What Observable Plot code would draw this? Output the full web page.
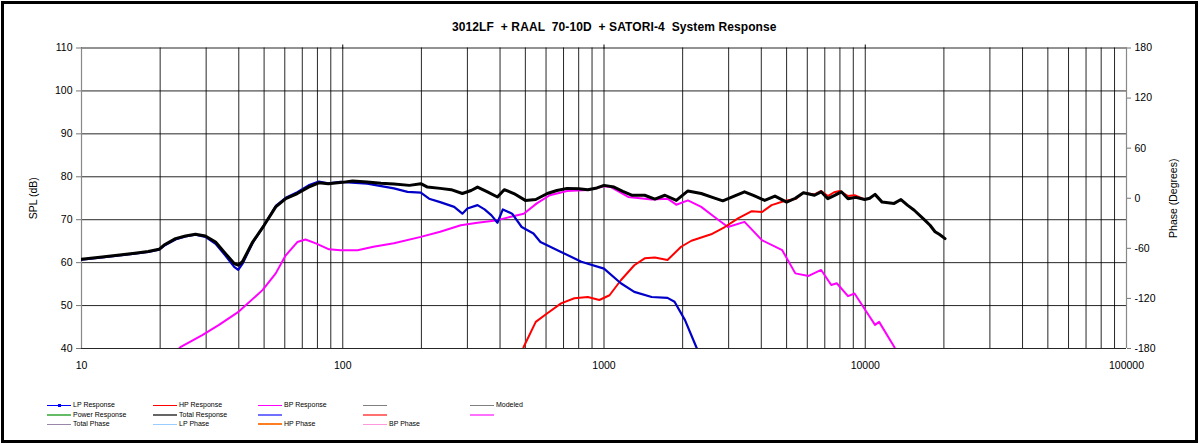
<!DOCTYPE html>
<html><head><meta charset="utf-8">
<script src="https://cdn.jsdelivr.net/npm/d3@7"></script>
<script src="https://cdn.jsdelivr.net/npm/@observablehq/plot@0.6"></script>
<style>
body{margin:0;background:#fff;font-family:"Liberation Sans",Arial,sans-serif;}
#wrap{position:relative;width:1200px;height:444px;overflow:hidden;background:#fff}
#frame{position:absolute;left:1px;top:1px;width:1197px;height:442px;border:3px solid #000;box-sizing:border-box}
#title{position:absolute;top:20px;left:452px;white-space:pre;font-weight:bold;font-size:12px;letter-spacing:0.1px;color:#000}
#chart{position:absolute;left:0;top:0}
.lg{position:absolute;font-size:7px;line-height:8px;color:#000;white-space:pre}
.ln{position:absolute;width:24px}
</style></head>
<body>
<div id="wrap">
  <div id="frame"></div>
  <div id="chart"></div>
  <div id="title"></div>
  <div id="legend"></div>
</div>
<script>
// ---------- data ----------
const chartTitle = "3012LF  + RAAL  70-10D  + SATORI-4  System Response";
const splTicks = [40, 50, 60, 70, 80, 90, 100, 110];
const phaseTicks = [-180, -120, -60, 0, 60, 120, 180];
const decadeTicks = [10, 100, 1000, 10000, 100000];

const totalFreq = [10,12,14,16,18,19.8,20.7,22.9,25,27.3,29.8,32.6,35.6,38.4,39.8,41.3,45.2,50,55.4,60.5,67,74,81,88,99.6,109,124,140,157,180,199,211,236,260,287,310,328,358,391,415,452,500,548,607,660,722,800,867,940,1000,1092,1180,1276,1431,1566,1711,1891,2095,2356,2600,2850,3150,3451,3750,4121,4512,5003,5400,5799,6393,6780,7190,7600,8100,8590,9200,9950,10400,10900,11600,12900,13700,14500,15400,16900,17700,18500,19200,20200];
const totalDb   = [60.8,61.3,61.8,62.2,62.6,63.1,64.1,65.6,66.2,66.6,66.2,64.8,62.1,59.8,59.4,60.2,64.8,68.7,73.0,74.9,76.1,77.6,78.6,78.4,78.7,79.0,78.8,78.5,78.3,78.0,78.4,77.6,77.3,77.0,76.1,76.8,77.6,76.5,75.3,77.0,76.1,74.5,74.7,76.1,76.8,77.3,77.2,77.0,77.4,78.0,77.6,76.6,75.7,75.7,74.8,75.7,74.5,76.7,76.1,75.2,74.4,75.5,76.5,75.6,74.5,75.5,74.1,75.0,76.3,75.7,76.5,74.9,75.6,76.5,74.9,75.2,74.7,75.0,75.9,74.1,73.8,74.7,73.4,72.2,69.9,68.7,67.2,66.6,65.6];

const lpFreq = [10,12,14,16,18,19.8,20.7,22.9,25,27.3,29.8,32.6,35.6,38.4,39.8,41.3,45.2,50,55.4,60.5,67,74,81,88,98,124,157,177,199,214,236,267,287,300,328,349,371,391,410,445,484,537,571,685,819,1000,1160,1306,1522,1750,1862,2042,2253,2400];
const lpDb   = [60.7,61.2,61.7,62.1,62.5,63.0,63.9,65.4,66.1,66.5,66.0,64.4,61.6,59.0,58.3,59.7,64.6,68.7,73.2,75.1,76.4,78.0,78.9,78.5,78.8,78.4,77.3,76.5,76.3,74.9,74.1,73.0,71.4,72.6,73.4,72.4,71.0,69.3,72.4,71.4,68.3,66.8,64.8,62.5,60.2,58.6,55.2,53.2,52.0,51.8,50.9,46.6,40.4,37.0];

const hpFreq = [480,493,548,607,685,770,867,960,1050,1160,1306,1431,1566,1750,1973,2160,2571,2900,3259,3680,4030,4380,4940,5400,5799,6393,6780,7190,7600,7980,8590,9100,9950];
const hpDb   = [38.0,40.4,46.2,48.2,50.5,51.7,52.0,51.3,52.4,55.9,59.4,61.0,61.2,60.6,63.7,65.1,66.6,68.3,70.3,72.0,71.8,73.4,74.4,74.8,76.3,75.9,76.7,75.5,76.4,76.7,75.5,75.7,74.7];

const bpFreq = [22,24,29,33.6,40,49.3,55.4,60.5,67,72,78.9,88.6,98,114,131,157,199,236,283,328,391,440,493,553,620,722,867,1000,1063,1238,1522,1750,1891,2095,2356,2640,2980,3451,4030,4810,5400,6070,6780,7410,7780,8590,9100,10400,10900,11300,12900,13500];
const bpDb   = [38.0,40.4,43.1,45.5,48.6,53.6,57.5,61.7,64.8,65.4,64.5,63.1,62.9,62.9,63.7,64.5,66.0,67.2,68.7,69.3,69.9,70.7,71.4,73.8,75.7,76.7,76.9,77.8,77.6,75.3,74.7,74.9,73.5,74.5,73.0,70.7,68.3,69.5,65.2,62.9,57.5,56.9,58.3,54.8,55.2,52.2,52.8,47.4,45.5,46.2,40.4,38.0];

const legendLabels = [
  ["LP Response", "HP Response", "BP Response", "", "Modeled"],
  ["Power Response", "Total Response", "", "", ""],
  ["Total Phase", "LP Phase", "HP Phase", "BP Phase"]
];
// ---------- build ----------
const toRows = (f, v) => f.map((x, i) => ({f: x, v: v[i]}));
const total = toRows(totalFreq, totalDb);
const lp = toRows(lpFreq, lpDb);
const hp = toRows(hpFreq, hpDb);
const bp = toRows(bpFreq, bpDb);

const gridFreqs = [];
for (let k = 10; k < 100000; k *= 10) for (let m = 1; m <= 9; m++) gridFreqs.push(m * k);
gridFreqs.push(100000);

const phaseToDb = p => 40 + (p + 180) / 360 * 70;
const dbToPhase = d => Math.round((d - 40) / 70 * 360 - 180);

const plot = Plot.plot({
  width: 1200, height: 444,
  marginTop: 47.5, marginBottom: 96, marginLeft: 81, marginRight: 74,
  style: {background: "transparent", fontFamily: "Liberation Sans, Arial, sans-serif", fontSize: "10px", color: "#000"},
  x: {type: "log", domain: [10, 100000]},
  y: {domain: [40, 110]},
  marks: [
    Plot.ruleX(gridFreqs, {stroke: "#000", strokeOpacity: 0.85, strokeWidth: 1}),
    Plot.ruleY(splTicks, {stroke: "#000", strokeOpacity: 0.85, strokeWidth: 1}),
    Plot.ruleX([10, 100000], {stroke: "#888", strokeWidth: 1.2}),
    Plot.axisY(splTicks, {anchor: "left", tickSize: 5, tickPadding: 4, stroke: "#777", fontSize: 10.5,
      label: "SPL (dB)", labelAnchor: "center", labelOffset: 52, labelArrow: "none"}),
    Plot.axisY(phaseTicks.map(phaseToDb), {anchor: "right", tickSize: 4, tickPadding: 4, stroke: "#777", fontSize: 10.5,
      tickFormat: d => String(dbToPhase(d)),
      label: "Phase (Degrees)", labelAnchor: "center", labelOffset: 50, labelArrow: "none"}),
    Plot.axisX(decadeTicks, {anchor: "bottom", tickSize: 0, tickPadding: 13, fontSize: 10.5, label: null, tickFormat: d => String(d)}),
    Plot.axisX(decadeTicks.slice(1, 4), {anchor: "top", tickSize: 4, stroke: "#000", label: null, tickFormat: () => ""}),
    Plot.line(bp, {x: "f", y: "v", stroke: "#ff00ff", strokeWidth: 2, clip: true}),
    Plot.line(hp, {x: "f", y: "v", stroke: "#ff0000", strokeWidth: 2, clip: true}),
    Plot.line(lp, {x: "f", y: "v", stroke: "#0000c8", strokeWidth: 2.2, clip: true}),
    Plot.line(total, {x: "f", y: "v", stroke: "#000", strokeWidth: 3, clip: true})
  ]
});
document.getElementById("chart").appendChild(plot);
document.getElementById("title").textContent = chartTitle;

// ---------- legend ----------
const legendStyles = [
  [["#0000ff",1,true],["#ff0000",1],["#ff00ff",1],["#808080",1],["#808080",1]],
  [["#66bb66",2],["#666666",2],["#7070ff",2],["#ff7070",2],["#ff70ff",2]],
  [["#9a86a6",1],["#99ccff",1],["#ff7f20",2],["#ff99dd",1]]
];
const colX = [47, 153, 258, 363, 470];
const rowY = [405, 415, 424];
const lg = document.getElementById("legend");
legendLabels.forEach((row, r) => row.forEach((lab, c) => {
  const [col, w, dot] = legendStyles[r][c];
  const ln = document.createElement("div");
  ln.className = "ln";
  ln.style.left = colX[c] + "px";
  ln.style.top = Math.round(rowY[r] - w / 2) + "px";
  ln.style.height = w + "px";
  ln.style.background = col;
  lg.appendChild(ln);
  if (dot) {
    const d = document.createElement("div");
    d.style.cssText = `position:absolute;left:${colX[c]+11}px;top:${rowY[r]-1}px;width:3px;height:3px;background:${col}`;
    lg.appendChild(d);
  }
  if (lab) {
    const t = document.createElement("div");
    t.className = "lg";
    t.style.left = (colX[c] + 26) + "px";
    t.style.top = (rowY[r] - 4) + "px";
    t.textContent = lab;
    lg.appendChild(t);
  }
}));
</script>
</body></html>
